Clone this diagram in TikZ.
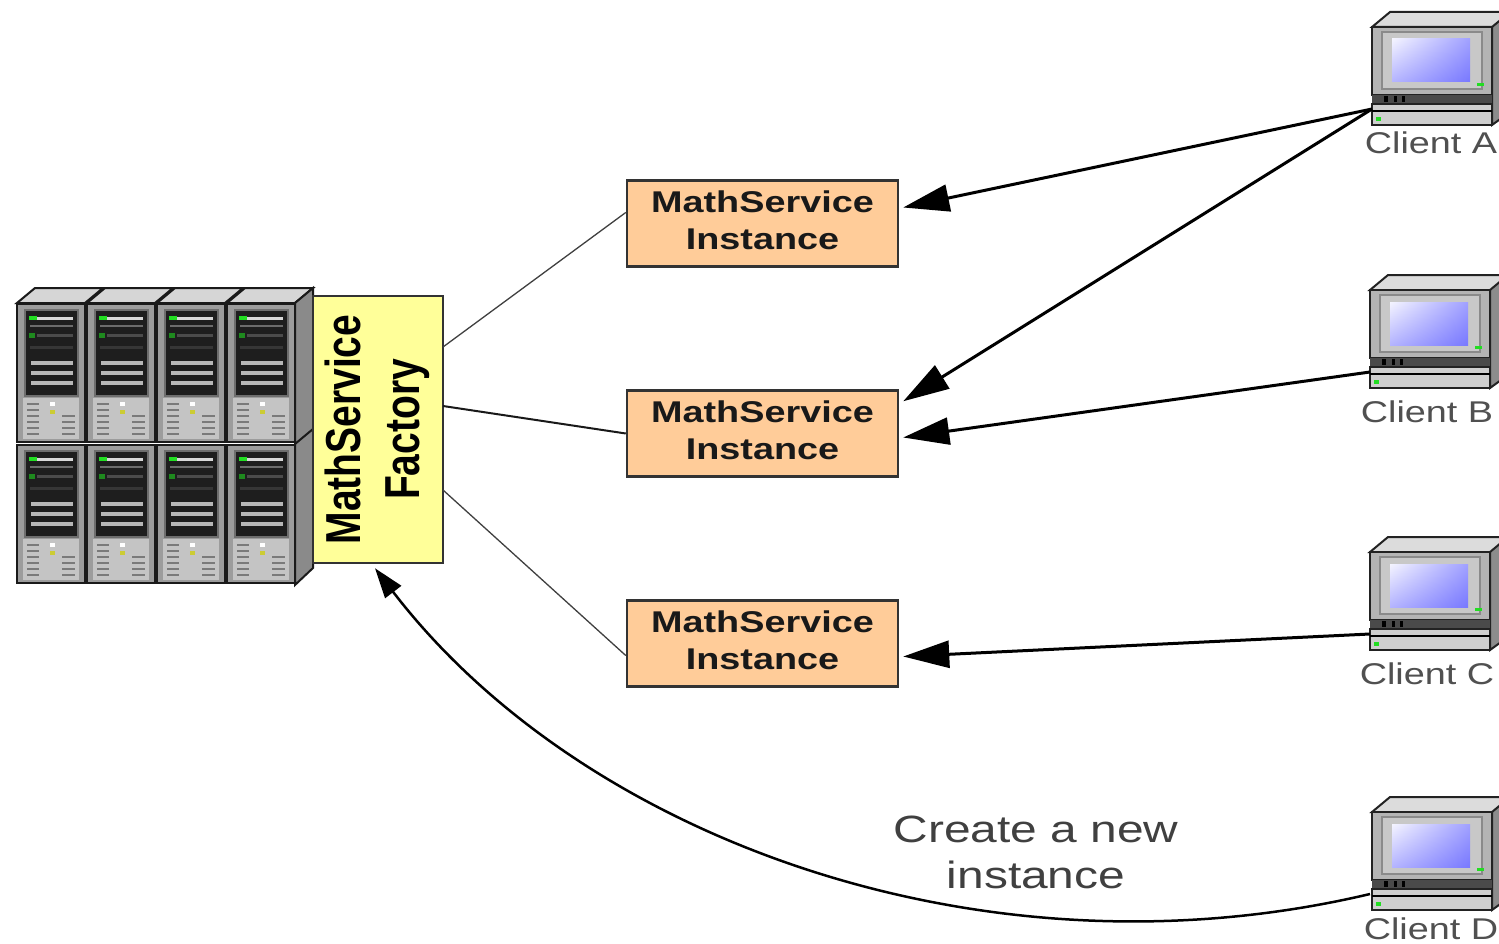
\documentclass[tikz,border=0pt]{standalone}
\usepackage{fontspec}
\setmainfont{Liberation Sans}
\usepackage{graphicx}
\usetikzlibrary{arrows.meta,calc,shadings}
\definecolor{instfill}{HTML}{FFCC99}
\definecolor{facfill}{HTML}{FFFF99}
\definecolor{compTop}{HTML}{DCDCDC}
\definecolor{compSide}{HTML}{8C8C8C}
\definecolor{compBody}{HTML}{B4B4B4}
\definecolor{compBezel}{HTML}{C8C8C8}
\definecolor{compBezelD}{HTML}{8A8A8A}
\definecolor{compLine}{HTML}{222222}
\definecolor{compDark}{HTML}{4A4A4A}
\definecolor{kbFill}{HTML}{CFCFCF}
\definecolor{scrA}{HTML}{F4F4FF}
\definecolor{scrB}{HTML}{7878FF}
\definecolor{scrC}{HTML}{A0A0FF}
\definecolor{scrD}{HTML}{B4B4FF}
\definecolor{srvBody}{HTML}{9C9C9C}
\definecolor{srvLine}{HTML}{1A1A1A}
\definecolor{srvPanel}{HTML}{1E1E1E}
\definecolor{srvFrame}{HTML}{6E6E6E}
\definecolor{srvBar}{HTML}{D8D8D8}
\definecolor{srvBar2}{HTML}{B8B8B8}
\definecolor{srvLow}{HTML}{C4C4C4}
\definecolor{grill}{HTML}{7A7A7A}
\definecolor{ledG}{HTML}{22DD22}
\definecolor{ledDG}{HTML}{1E8A1E}
\definecolor{ledY}{HTML}{CCCC33}
\definecolor{srvTop}{HTML}{D6D6D6}
\definecolor{srvSide}{HTML}{8A8A8A}
\definecolor{labelgray}{HTML}{505050}
\tikzset{
  computer/.pic={
    \filldraw[fill=compTop, draw=compLine, line width=2pt] (0,0) -- (18,-15) -- (150,-15) -- (132,0) -- cycle;
    \filldraw[fill=compSide, draw=compLine, line width=2pt] (120,0) -- (138,-15) -- (138,85) -- (120,98) -- cycle;
    \filldraw[fill=compBody, draw=compLine, line width=2.5pt] (0,0) rectangle (120,68);
    \filldraw[fill=compBezel, draw=compBezelD, line width=1.5pt] (10,5) rectangle (110,62);
    \shade[upper left=scrA, lower right=scrB, upper right=scrC, lower left=scrD] (20,12) rectangle (98,55);
    \fill[ledG] (105,56) rectangle (112,59);
    \fill[compDark] (0,68) rectangle (120,76);
    \fill[black] (12,69) rectangle (16,75);
    \fill[black] (22,69) rectangle (25,75);
    \fill[black] (30,69) rectangle (33,75);
    \filldraw[fill=kbFill, draw=compLine, line width=2pt] (0,77) rectangle (120,98);
    \draw[black, line width=2pt] (0,84) -- (120,84);
    \fill[ledG] (4,90) rectangle (9,94);
  },
  srvunit/.pic={
    \filldraw[fill=srvBody, draw=srvLine, line width=2.5pt] (0,0) rectangle (68,138);
    \filldraw[fill=srvPanel, draw=srvFrame, line width=2pt] (8,6) rectangle (61,92);
    \fill[srvBar] (13,13) rectangle (56,16);
    \fill[ledG] (12,12) rectangle (20,16);
    \fill[srvBar!50!black] (13,21) rectangle (56,23);
    \fill[srvBar!35!black] (20,30) rectangle (56,33);
    \fill[ledDG] (12,29) rectangle (18,34);
    \fill[srvBar!25!black] (13,42) rectangle (56,45);
    \fill[srvBar2] (14,57) rectangle (56,61);
    \fill[srvBar2] (14,67) rectangle (56,71);
    \fill[srvBar2] (14,77) rectangle (56,81);
    \fill[srvLow] (6,94) rectangle (62,135);
    \foreach \yy in {100,106,112,118,124,130} \draw[grill, line width=1.6pt] (10,\yy) -- (22,\yy);
    \foreach \yy in {112,118,124,130} \draw[grill, line width=1.6pt] (45,\yy) -- (58,\yy);
    \fill[white] (33,98) rectangle (38,102);
    \fill[ledY] (33,106) rectangle (38,110);
  },
  instbox/.style={draw=black!80, line width=2.5pt, fill=instfill, minimum width=271pt, minimum height=86pt, inner sep=0pt, font=\fontsize{30}{37}\selectfont\bfseries, text=black!90},
  facbox/.style={draw=black!80, line width=2.5pt, fill=facfill, minimum width=130pt, minimum height=267pt, inner sep=0pt, font=\fontsize{39}{47.6}\selectfont\bfseries},
  clientlabel/.style={font=\fontsize{30}{36}\selectfont, text=labelgray, inner sep=0pt},
  thinlink/.style={draw=black!75, line width=1.3pt},
  midlink/.style={draw=black!90, line width=2pt},
  callarrow/.style={draw=black, line width=3pt, -{Triangle[length=46pt, width=27pt]}},
  createarrow/.style={draw=black, line width=2.5pt, -{Triangle[length=30pt, width=20pt]}},
  notelabel/.style={font=\fontsize{38}{46}\selectfont, text=black!75, align=center, inner sep=0pt}
}
\begin{document}
\begin{tikzpicture}[x=1pt,y=-1pt]
\useasboundingbox (0,0) rectangle (1499,944);
\fill[white] (0,0) rectangle (1499,944);

% server rack
\foreach \i in {0,1,2,3} {
  \filldraw[fill=srvTop, draw=srvLine, line width=2pt] (17+70*\i,303) -- (35+70*\i,288) -- (103+70*\i,288) -- (85+70*\i,303) -- cycle;
}
\filldraw[fill=srvSide, draw=srvLine, line width=2pt] (295,303) -- (313,288) -- (313,568) -- (295,585) -- cycle;
\draw[srvLine, line width=2pt] (295,444) -- (313,429);
\foreach \i in {0,1,2,3} {
  \pic at (17+70*\i,304) {srvunit};
  \pic at (17+70*\i,445) {srvunit};
}

% factory
\node[facbox] (fac) at (378,429.5) {\rotatebox{90}{\scalebox{1}[1.26]{\begin{tabular}{@{}c@{}}MathService\\Factory\end{tabular}}}};

% instances
\node[instbox] (i1) at (762.5,223.5) {\scalebox{1.26}[1]{\begin{tabular}{@{}c@{}}MathService\\Instance\end{tabular}}};
\node[instbox] (i2) at (762.5,433.5) {\scalebox{1.26}[1]{\begin{tabular}{@{}c@{}}MathService\\Instance\end{tabular}}};
\node[instbox] (i3) at (762.5,643.5) {\scalebox{1.26}[1]{\begin{tabular}{@{}c@{}}MathService\\Instance\end{tabular}}};

% clients
\pic at (1372,27) {computer};
\pic at (1370,290) {computer};
\pic at (1370,552) {computer};
\pic at (1372,812) {computer};
\node[clientlabel, anchor=base] (la) at (1431,154) {\scalebox{1.26}[1]{Client A}};
\node[clientlabel, anchor=base] (lb) at (1427,422) {\scalebox{1.26}[1]{Client B}};
\node[clientlabel, anchor=base] (lc) at (1427,684) {\scalebox{1.26}[1]{Client C}};
\node[clientlabel, anchor=base] (ld) at (1431,939) {\scalebox{1.26}[1]{Client D}};
\coordinate (ca) at (1372,109);
\coordinate (cb) at (1370,372);
\coordinate (cc) at (1370,634);
\coordinate (cd) at (1370,894);

% factory to instances
\coordinate (f1) at (443,347);
\coordinate (f2) at (443,406);
\coordinate (f3) at (443,490);
\draw[thinlink] (f1) -- ($(i1.west)+(0,-11)$);
\draw[midlink] (f2) -- (i2.west);
\draw[thinlink] (f3) -- ($(i3.west)+(0,12)$);

% client calls
\draw[callarrow] (ca) -- ($(i1.east)+(4,-16)$);
\draw[callarrow] (ca) -- ($(i2.north east)+(4,12)$);
\draw[callarrow] (cb) -- ($(i2.east)+(4,4)$);
\draw[callarrow] (cc) -- ($(i3.east)+(4,13)$);

% create new instance
\draw[createarrow] (cd) .. controls (981,986) and (581,837) .. ($(fac.south)+(-3,4)$);
\node[notelabel] (note) at (1036,852) {\scalebox{1.26}[1]{Create a new}\\\scalebox{1.26}[1]{instance}};
\end{tikzpicture}
\end{document}
